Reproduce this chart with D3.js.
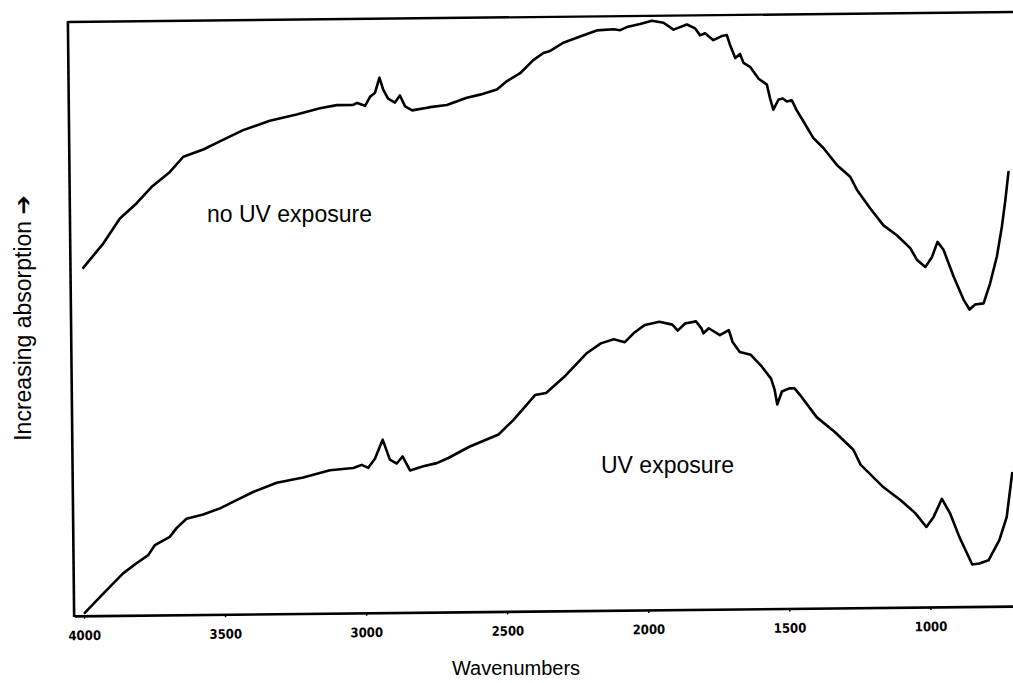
<!DOCTYPE html>
<html>
<head>
<meta charset="utf-8">
<script src="https://cdn.jsdelivr.net/npm/d3@7"></script>
<style>
  html, body { margin: 0; padding: 0; background: #ffffff; }
  svg { display: block; }
</style>
</head>
<body>
<div id="chart"></div>
<script>
// ---- Data ----
const xTickValues = [4000, 3500, 3000, 2500, 2000, 1500, 1000];

const noUvWavenumbers = [3990,3918,3858,3798,3745,3679,3631,3560,3501,3418,3323,3228,3145,3085,3027,3013,2985,2967,2949,2933,2920,2903,2879,2861,2843,2818,2755,2695,2624,2577,2517,2482,2434,2387,2351,2327,2280,2220,2161,2102,2078,2054,2007,1965,1924,1889,1841,1812,1795,1777,1748,1718,1700,1689,1671,1654,1642,1619,1589,1560,1549,1538,1519,1504,1490,1472,1455,1432,1397,1362,1315,1268,1245,1198,1152,1105,1058,1034,1005,981,961,940,905,871,850,830,800,776,751,732,719,707];
const noUvAbsorbance = [348,372,397,412,428,443,458,465,473,484,493,499,505,508,508,510,507,516,520,535,523,514,510,517,506,502,505,507,514,517,522,530,538,551,558,560,568,574,580,581,580,583,586,589,587,580,585,581,574,576,569,573,574,564,551,555,546,542,530,524,510,499,509,510,507,508,498,487,470,460,443,431,418,399,382,372,359,347,340,350,365,357,330,307,297,302,303,323,350,380,406,434];

const uvWavenumbers = [3997,3931,3860,3812,3770,3746,3693,3668,3633,3574,3514,3455,3396,3312,3218,3123,3040,3010,2987,2963,2935,2910,2886,2865,2839,2792,2744,2703,2628,2524,2472,2393,2354,2289,2210,2158,2112,2073,2041,2001,1950,1904,1885,1859,1820,1801,1794,1775,1736,1704,1691,1666,1627,1588,1556,1544,1535,1518,1492,1473,1453,1396,1332,1267,1242,1165,1101,1050,1011,985,955,926,895,850,825,792,753,726,705];
const uvAbsorbance = [3,22,42,52,60,70,78,87,96,100,106,114,122,131,136,143,145,148,145,154,173,153,149,156,142,146,149,154,165,177,191,216,218,234,257,267,271,268,277,285,288,285,279,286,288,281,276,281,274,279,267,257,254,242,230,219,204,217,220,220,213,191,176,158,143,121,107,94,80,90,108,93,70,42,43,46,66,89,133];

const seriesLabels = ["no UV exposure", "UV exposure"];
const xTitle = "Wavenumbers";
const yTitle = "Increasing absorption \u2794";

// ---- Layout ----
const W = 1013, H = 683;
const svg = d3.select("#chart").append("svg")
  .attr("width", W).attr("height", H)
  .attr("viewBox", `0 0 ${W} ${H}`);

const plotLeft = 71, plotRight = 1026, plotTop = 17, plotBottom = 611;

const x = d3.scaleLinear().domain([4035, 650]).range([plotLeft, plotRight]);
const y = d3.scaleLinear().domain([0, 594]).range([plotBottom, plotTop]);

// the scanned figure is slightly rotated
const g = svg.append("g").attr("transform", "rotate(-0.6, 542, 315)");

// frame (top + left)
g.append("line")
  .attr("x1", plotLeft).attr("x2", plotRight)
  .attr("y1", plotTop).attr("y2", plotTop)
  .attr("stroke", "#000").attr("stroke-width", 2.4);
g.append("line")
  .attr("x1", plotLeft).attr("x2", plotLeft)
  .attr("y1", plotTop - 1).attr("y2", plotBottom + 1)
  .attr("stroke", "#000").attr("stroke-width", 2.6);

// bottom axis
const xAxis = d3.axisBottom(x)
  .tickValues(xTickValues)
  .tickFormat(d3.format("d"))
  .tickSizeInner(3)
  .tickSizeOuter(0)
  .tickPadding(12);

const axG = g.append("g")
  .attr("transform", `translate(0,${plotBottom})`)
  .call(xAxis);
axG.select(".domain").attr("stroke", "#000").attr("stroke-width", 2.6);
axG.selectAll(".tick line").attr("stroke", "#000").attr("stroke-width", 1.5);
axG.selectAll(".tick text")
  .attr("fill", "#000")
  .style("font-family", "'Liberation Sans Narrow', 'DejaVu Sans Condensed', 'Arial Narrow', sans-serif")
  .style("font-weight", "bold")
  .style("font-size", "13px");

// curves
const line = d3.line()
  .x(d => x(d[0]))
  .y(d => y(d[1]))
  .curve(d3.curveLinear);

const noUv = noUvWavenumbers.map((w, i) => [w, noUvAbsorbance[i]]);
const uv = uvWavenumbers.map((w, i) => [w, uvAbsorbance[i]]);

[noUv, uv].forEach(data => {
  g.append("path")
    .datum(data)
    .attr("d", line)
    .attr("fill", "none")
    .attr("stroke", "#000")
    .attr("stroke-width", 2.6)
    .attr("stroke-linejoin", "round")
    .attr("stroke-linecap", "round");
});

// series annotations
const labelFont = "'Liberation Sans', Arial, 'DejaVu Sans', sans-serif";
svg.append("text")
  .attr("x", 207).attr("y", 222)
  .style("font-family", labelFont).style("font-size", "23px")
  .attr("fill", "#000")
  .text(seriesLabels[0]);
svg.append("text")
  .attr("x", 601).attr("y", 473)
  .style("font-family", labelFont).style("font-size", "23px")
  .attr("fill", "#000")
  .text(seriesLabels[1]);

// axis titles
svg.append("text")
  .attr("x", 516).attr("y", 675)
  .attr("text-anchor", "middle")
  .style("font-family", labelFont).style("font-size", "20px")
  .attr("fill", "#000")
  .text(xTitle);

svg.append("text")
  .attr("transform", "translate(31,318) rotate(-90)")
  .attr("text-anchor", "middle")
  .style("font-family", labelFont).style("font-size", "23px")
  .attr("fill", "#000")
  .text(yTitle);
</script>
</body>
</html>
